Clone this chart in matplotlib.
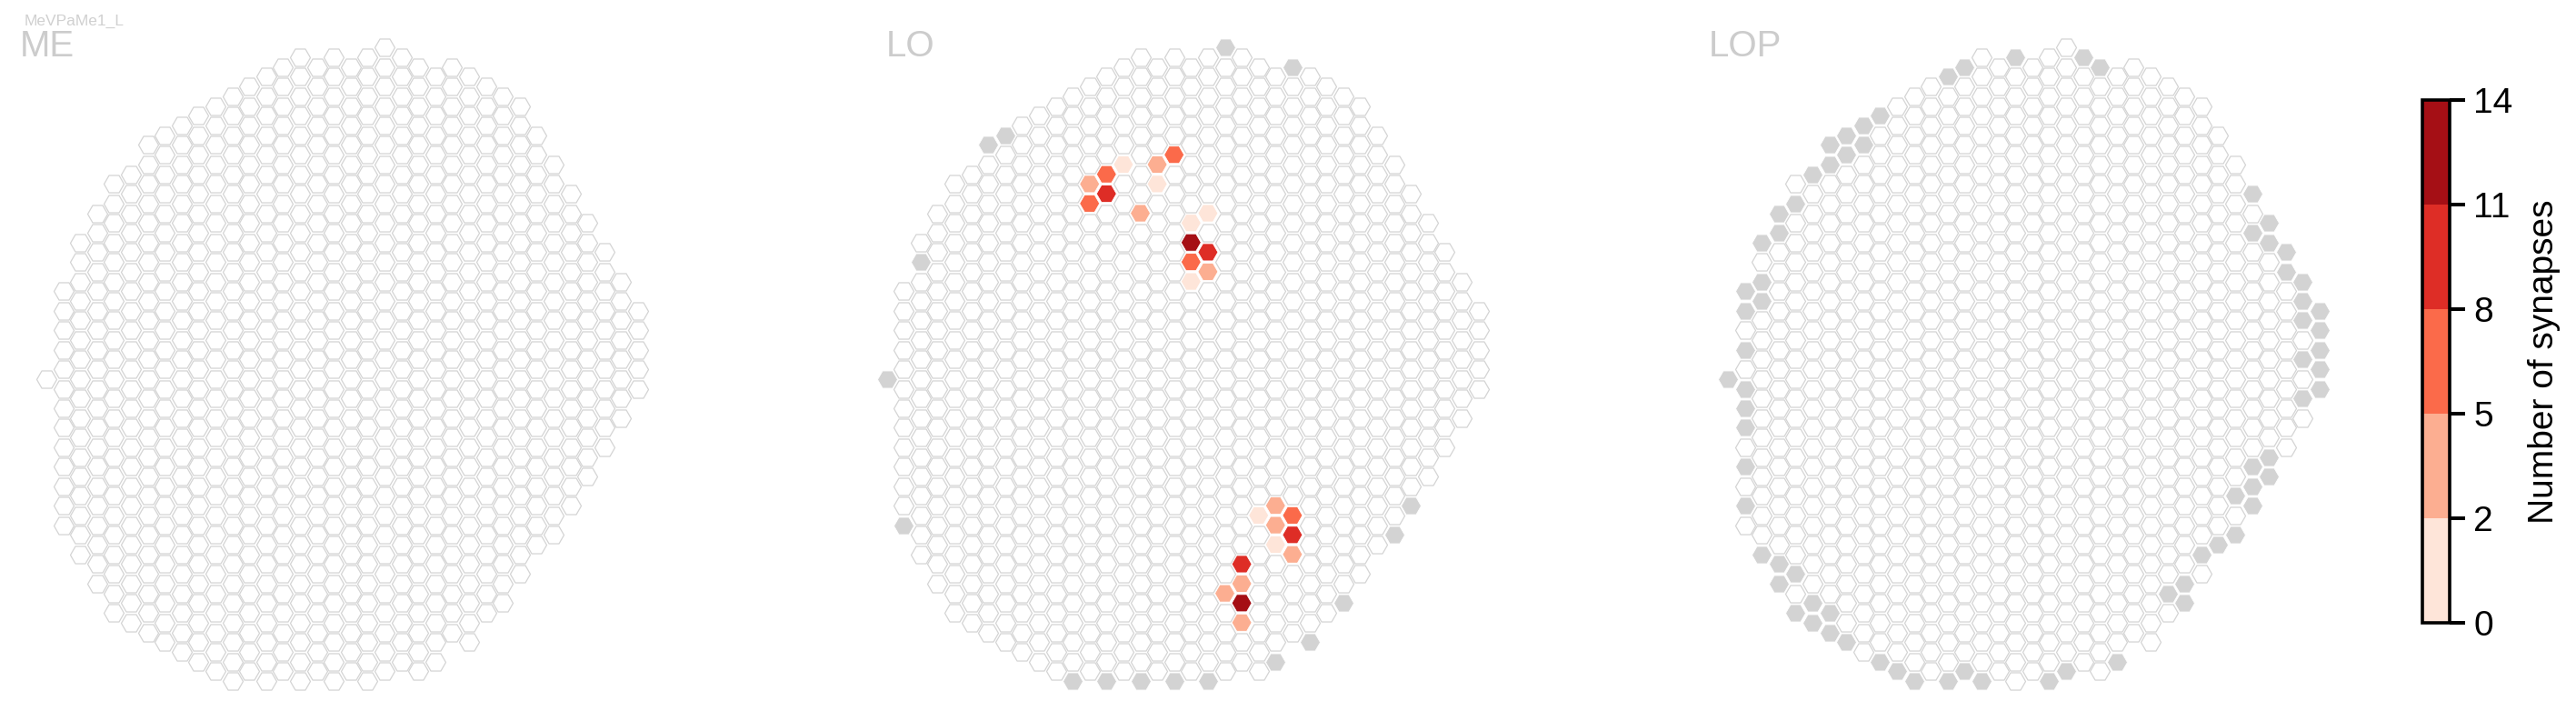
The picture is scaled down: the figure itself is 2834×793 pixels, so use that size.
import matplotlib
matplotlib.use('Agg')
import matplotlib.pyplot as plt
from matplotlib.colors import ListedColormap, BoundaryNorm
from matplotlib.cm import ScalarMappable
from matplotlib.path import Path

plt.rcParams['font.family'] = ['Liberation Sans', 'DejaVu Sans']

# ---------------- data ----------------
cell_type = 'MeVPaMe1_L'
panel_names = ['ME', 'LO', 'LOP']

# hexagonal column grid (shared by the three neuropils):
# for every grid column, first and last half-row index (top -> bottom)
grid_cols = list(range(36))
grid_top = [34, 25, 20, 17, 14, 13, 10, 9, 8, 7, 6, 5, 4, 3, 2, 1, 2, 1, 2, 1,
            0, 1, 2, 3, 2, 3, 4, 5, 6, 9, 12, 15, 18, 21, 24, 27]
grid_bottom = [34, 49, 52, 55, 58, 59, 60, 61, 62, 63, 64, 65, 64, 65, 64, 65, 64, 65, 64, 65,
               64, 63, 64, 63, 60, 61, 58, 57, 54, 51, 50, 47, 44, 41, 38, 35]

# columns not available in the neuropil (drawn grey)
lo_gray_col = [20, 24, 7, 6, 2, 0, 1, 31, 30, 27, 25, 23, 11, 13, 15, 17, 19]
lo_gray_row = [0, 2, 9, 10, 22, 34, 49, 47, 50, 57, 61, 63, 65, 65, 65, 65, 65]

lop_gray_col = [17, 21, 22, 14, 13, 9, 8, 7, 6, 8, 7, 6, 5, 4, 3, 3, 2, 2, 1, 2, 1, 1,
                31, 32, 31, 32, 33, 33, 34, 34, 35, 34, 35, 35, 34, 35,
                0, 1, 1, 1, 1, 1, 35, 34, 32, 31, 32, 31, 30, 31, 30, 29, 28, 27, 26, 27,
                23, 20, 19, 15, 14, 13, 11, 10, 9, 7, 6, 6, 5, 5, 4, 4, 3, 3, 2]
lop_gray_row = [1, 1, 2, 2, 3, 7, 8, 9, 10, 10, 11, 12, 13, 16, 17, 19, 20, 24, 25, 26, 27, 31,
                15, 18, 19, 20, 21, 23, 24, 26, 27, 28, 29, 31, 32, 33,
                34, 35, 37, 39, 43, 47, 35, 36, 42, 43, 44, 45, 46, 47, 50, 51, 52, 55, 56, 57,
                63, 64, 65, 65, 64, 65, 65, 64, 63, 61, 60, 58, 59, 57, 58, 54, 55, 53, 52]

# synapse counts per column in LO
lo_syn_col = [17, 16, 14, 13, 12, 16, 13, 12, 15, 19, 18, 18, 19, 18, 19, 18,
              23, 22, 24, 23, 24, 23, 24, 21, 21, 20, 21, 21]
lo_syn_row = [11, 12, 12, 13, 14, 14, 15, 16, 17, 17, 18, 20, 21, 22, 23, 24,
              47, 48, 48, 49, 50, 51, 52, 53, 55, 56, 57, 59]
lo_syn_val = [6, 3, 1, 7, 4, 1, 9, 6, 3, 1, 1, 12, 10, 7, 3, 1,
              4, 1, 6, 3, 9, 1, 3, 10, 4, 3, 13, 3]

cbar_bounds = [0, 2, 5, 8, 11, 14]
cbar_colors = ['#fee5d9', '#fcae91', '#fb6a4a', '#de2d26', '#a50f15']
cbar_title = 'Number of synapses'

# ---------------- layout (pixels) ----------------
W, H, DPI = 2834, 793, 100
DX, DYH, Y0 = 18.6, 10.72, 52.3
panel_x0 = [51, 975.5, 1901]
title_x = [22, 975, 1880]

fig = plt.figure(figsize=(W / DPI, H / DPI), dpi=DPI)
fig.patch.set_facecolor('white')

cmap = ListedColormap(cbar_colors)
norm = BoundaryNorm(cbar_bounds, cmap.N)

# flat-topped hexagon marker (half-height / half-width ratio)
HR = 0.866
hex_path = Path([(1, 0), (0.5, HR), (-0.5, HR), (-1, 0), (-0.5, -HR), (0.5, -HR), (1, 0)],
                [Path.MOVETO] + [Path.LINETO] * 5 + [Path.CLOSEPOLY])
HALF_W_PX = 11.0
MS = (2 * HALF_W_PX * 72 / DPI) ** 2
EDGE = '#d4d4d4'
GRAY = '#d3d3d3'


def make_axes(x0):
    xmin, xmax, ymin, ymax = -1.5, 36.5, -3, 68
    left = x0 + xmin * DX
    width = (xmax - xmin) * DX
    top = Y0 + ymin * DYH
    height = (ymax - ymin) * DYH
    ax = fig.add_axes([left / W, 1 - (top + height) / H, width / W, height / H])
    ax.set_xlim(xmin, xmax)
    ax.set_ylim(ymax, ymin)
    ax.axis('off')
    return ax


all_cells = [(c, h) for c, t, b in zip(grid_cols, grid_top, grid_bottom)
             for h in range(t, b + 1, 2)]

panel_gray = [([], []), (lo_gray_col, lo_gray_row), (lop_gray_col, lop_gray_row)]
panel_syn = [([], [], []), (lo_syn_col, lo_syn_row, lo_syn_val), ([], [], [])]

for i, name in enumerate(panel_names):
    ax = make_axes(panel_x0[i])
    gc, gr = panel_gray[i]
    sc, sr, sv = panel_syn[i]
    taken = set(zip(gc, gr)) | set(zip(sc, sr))
    white = [cell for cell in all_cells if cell not in taken]
    ax.scatter([c for c, h in white], [h for c, h in white], s=MS, marker=hex_path,
               facecolor='white', edgecolor=EDGE, linewidth=0.9, clip_on=False)
    if gc:
        ax.scatter(gc, gr, s=MS, marker=hex_path, facecolor=GRAY, edgecolor='white',
                   linewidth=0.6, clip_on=False)
    if sc:
        ax.scatter(sc, sr, c=sv, cmap=cmap, norm=norm, s=MS, marker=hex_path,
                   edgecolor='white', linewidth=0.6, clip_on=False)
    fig.text(title_x[i] / W, 1 - 62 / H, name, fontsize=29, color='#cccccc',
             ha='left', va='baseline')

fig.text(27 / W, 1 - 28 / H, cell_type, fontsize=12.5, color='#d0d0d0',
         ha='left', va='baseline')

# ---------------- colour bar ----------------
cax = fig.add_axes([2665 / W, 1 - 685 / H, 30 / W, 575 / H])
cb = fig.colorbar(ScalarMappable(norm=norm, cmap=cmap), cax=cax,
                  ticks=cbar_bounds, spacing='uniform')
cb.outline.set_linewidth(2.6)
cax.tick_params(length=12, width=2.9, labelsize=28, pad=7, color='black')
cb.set_label(cbar_title, fontsize=28, labelpad=12)

fig.savefig('out.png', dpi=DPI, facecolor='white')
